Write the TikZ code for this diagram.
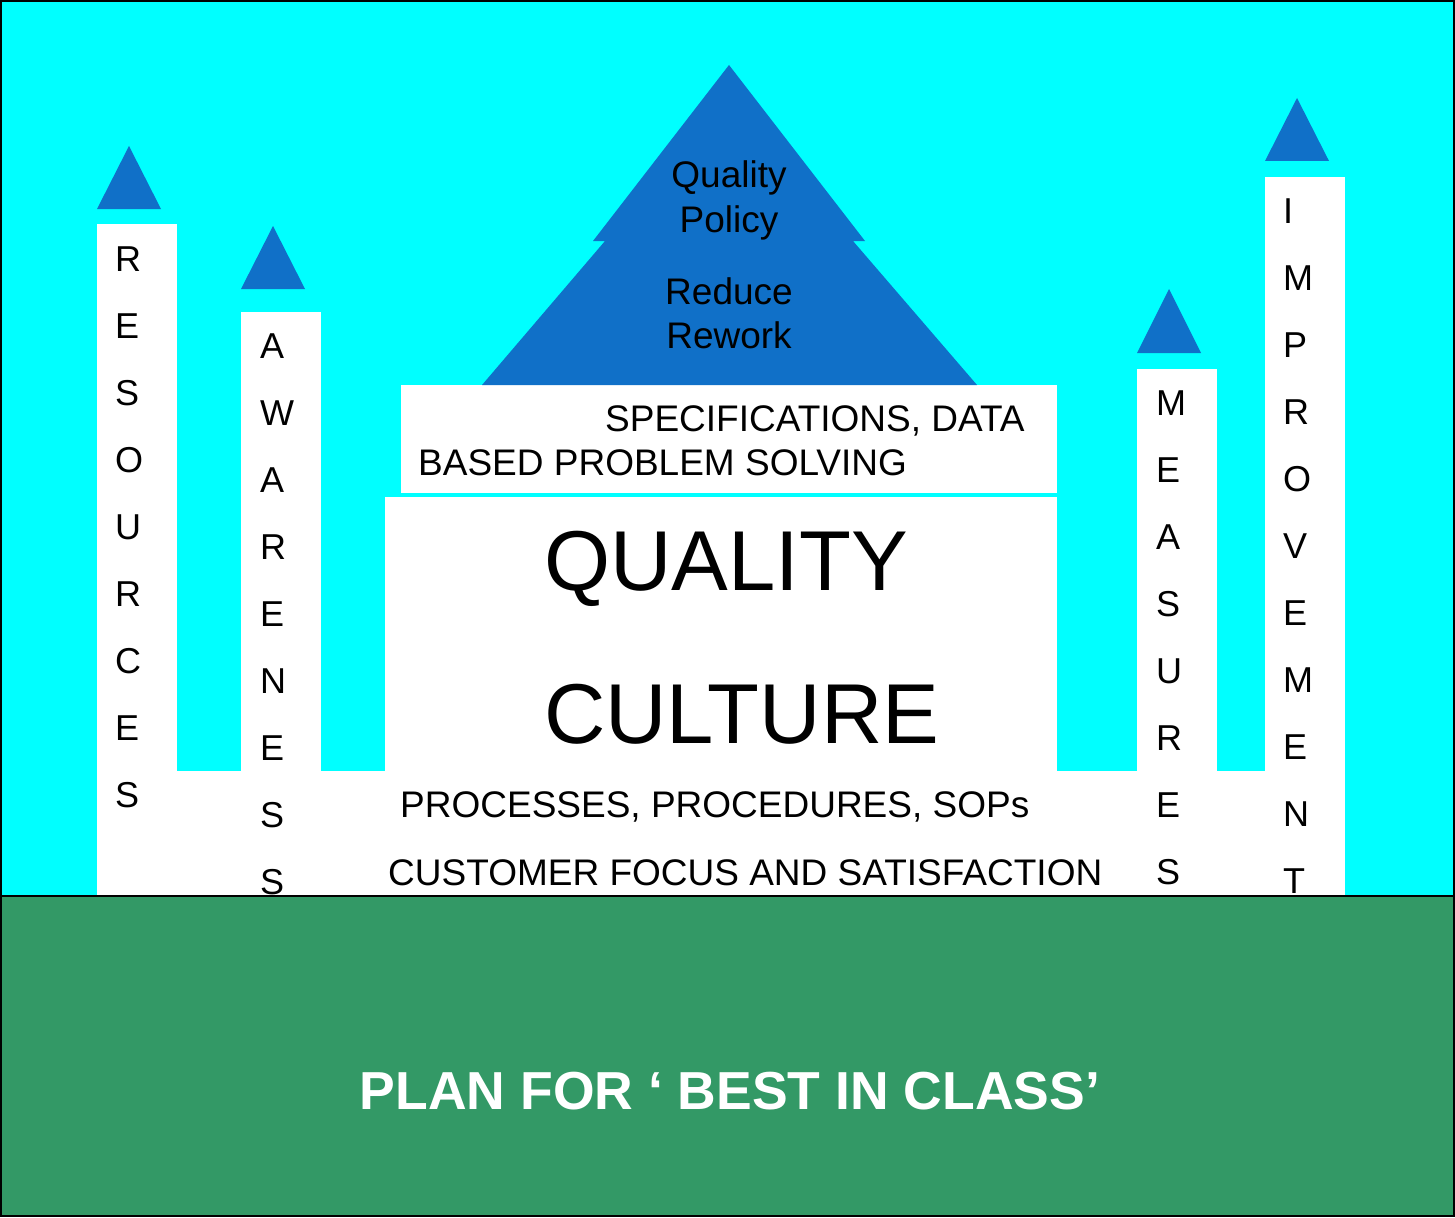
\documentclass[tikz,border=0pt]{standalone}
\usepackage{fontspec}
\setmainfont{Liberation Sans}
\definecolor{skycyan}{RGB}{0,255,255}
\definecolor{roofblue}{RGB}{16,112,200}
\definecolor{groundgreen}{RGB}{51,153,102}
\begin{document}
\begin{tikzpicture}[x=1pt, y=-1pt,
    roof/.style={fill=roofblue},
    wall/.style={fill=white},
    letters/.style={anchor=base west, align=left, inner sep=0pt, font=\fontsize{36}{67}\selectfont},
    words/.style={inner sep=0pt, font=\fontsize{37}{44}\selectfont}]
    \useasboundingbox (0,0) rectangle (1455,1217);

    % Sky and ground
    \fill[skycyan] (0,0) rectangle (1455,896);
    \fill[groundgreen] (0,896) rectangle (1455,1217);

    % Walls
    \fill[wall] (97,771) rectangle (1345,896);
    \fill[wall] (97,224) rectangle (177,896);
    \fill[wall] (241,312) rectangle (321,896);
    \fill[wall] (1137,369) rectangle (1217,896);
    \fill[wall] (1265,177) rectangle (1345,896);
    \fill[wall] (401,385) rectangle (1057,493);
    \fill[wall] (385,497) rectangle (1057,896);

    % Roofs
    \fill[roof] (97,209) -- (129,146) -- (161,209) -- cycle;
    \fill[roof] (241,289) -- (273,226) -- (305,289) -- cycle;
    \fill[roof] (1137,353) -- (1169,289) -- (1201,353) -- cycle;
    \fill[roof] (1265,161) -- (1297,98) -- (1329,161) -- cycle;
    \fill[roof] (729,65) -- (593,241) -- (605,241) -- (482,385)
        -- (977,385) -- (853,241) -- (865,241) -- cycle;

    % Pillars (anchored at the last line)
    \node[letters] (resources) at (115,807) {R\\E\\S\\O\\U\\R\\C\\E\\S};
    \node[letters] (awareness) at (260,894) {A\\W\\A\\R\\E\\N\\E\\S\\S};
    \node[letters] (measures) at (1156,884) {M\\E\\A\\S\\U\\R\\E\\S};
    \node[letters] (improvement) at (1283,893) {I\\M\\P\\R\\O\\V\\E\\M\\E\\N\\T};

    % Pyramid
    \node[words, anchor=base, align=center] (policy) at (729,232) {Quality\\Policy};
    \node[words, anchor=base, align=center] (rework) at (729,348) {Reduce\\Rework};

    % Floors
    \node[words, anchor=base west] (specs) at (605,431) {SPECIFICATIONS, DATA};
    \node[words, anchor=base west] (solving) at (418,475) {BASED PROBLEM SOLVING};
    \node[anchor=base west, align=left, inner sep=0pt, font=\fontsize{85}{153}\selectfont]
        (culture) at (544,743) {QUALITY\\CULTURE};
    \node[words, anchor=base west] (processes) at (400,817) {PROCESSES, PROCEDURES, SOPs};
    \node[words, anchor=base west] (customer) at (388,885) {CUSTOMER FOCUS AND SATISFACTION};

    % Ground
    \node[inner sep=0pt, anchor=base, text=white, font=\fontsize{53.5}{64}\selectfont\bfseries]
        (plan) at (730,1109) {PLAN FOR ‘ BEST IN CLASS’};

    % Edges
    \draw[line width=2.5] (0,896) -- (1455,896);
    \draw[line width=2] (1,1) rectangle (1454,1216);
\end{tikzpicture}
\end{document}
